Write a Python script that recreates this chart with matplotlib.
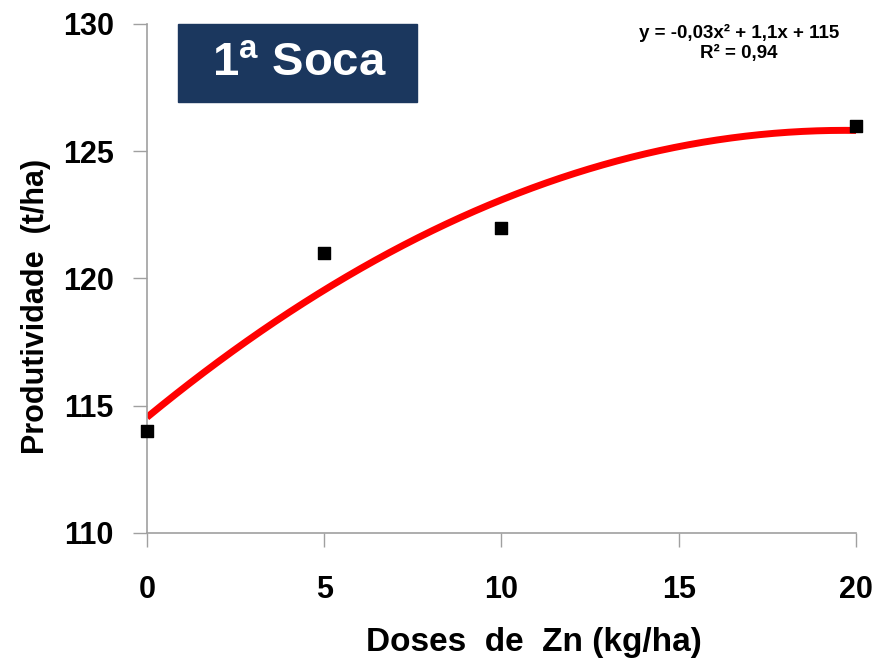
import numpy as np
import matplotlib.pyplot as plt

doses = [0, 5, 10, 20]
produtividade = [114, 121, 122, 126]
x_ticks = [0, 5, 10, 15, 20]
y_ticks = [110, 115, 120, 125, 130]

plt.rcParams['font.family'] = ['Liberation Sans', 'DejaVu Sans']
plt.rcParams['font.weight'] = 'bold'
plt.rcParams['mathtext.fontset'] = 'custom'
plt.rcParams['mathtext.bf'] = 'Liberation Sans:bold'
plt.rcParams['mathtext.rm'] = 'Liberation Sans:bold'

fig = plt.figure(figsize=(8.85, 6.63), dpi=100)
ax = fig.add_axes([147 / 885, 1 - 533 / 663, (856 - 147) / 885, (533 - 24) / 663])

# quadratic trend line
coef = np.polyfit(doses, produtividade, 2)
xs = np.linspace(0, 20, 200)
ax.plot(xs, np.polyval(coef, xs), color='#ff0000', lw=5, solid_capstyle='butt', zorder=2)
ax.scatter(doses, produtividade, marker='s', s=70, color='black', zorder=3, clip_on=False)

ax.set_xlim(0, 20)
ax.set_ylim(110, 130)
ax.set_xticks(x_ticks)
ax.set_yticks(y_ticks)
ax.tick_params(direction='out', length=10, width=1, color='#a0a0a0', labelsize=22)
ax.tick_params(axis='x', pad=20)
ax.tick_params(axis='y', pad=14)
for s in ['top', 'right']:
    ax.spines[s].set_visible(False)
for s in ['left', 'bottom']:
    ax.spines[s].set_color('#a0a0a0')
    ax.spines[s].set_linewidth(1.2)

ax.set_xlabel('Doses  de  Zn (kg/ha)', fontsize=24, fontweight='bold')
ax.set_ylabel('Produtividade  (t/ha)', fontsize=22, fontweight='bold')
ax.xaxis.set_label_coords(0.545, -0.185)
ax.yaxis.set_label_coords(-0.135, 0.445)

fig.text(739 / 885, 1 - 33 / 663, 'y = -0,03x² + 1,1x + 115', ha='center', va='center',
         fontsize=13.5, fontweight='bold')
fig.text(739 / 885, 1 - 53 / 663, 'R² = 0,94', ha='center', va='center',
         fontsize=13.5, fontweight='bold')

# title box
fig.patches.append(plt.Rectangle((178 / 885, 1 - 102 / 663), (417 - 178) / 885, 78 / 663,
                                 transform=fig.transFigure, color='#1b375e', zorder=5))
fig.text(299 / 885, 1 - 64 / 663, r'1$^{\mathbf{a}}$ Soca', ha='center', va='center',
         fontsize=34, fontweight='bold', color='white', zorder=6)

fig.savefig('out.png', dpi=100)
